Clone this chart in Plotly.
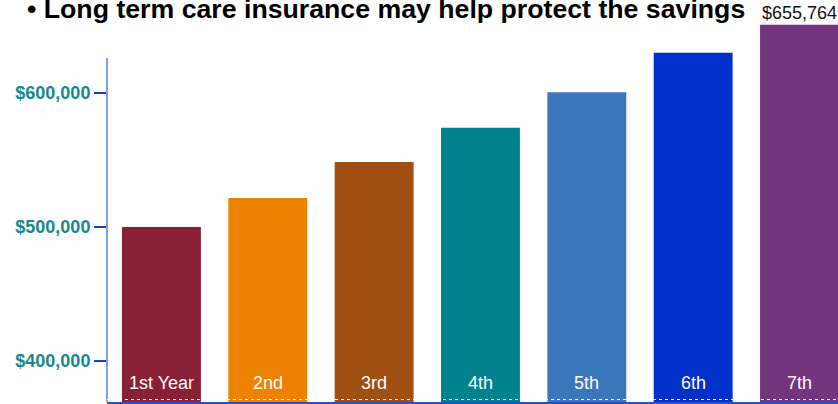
import plotly.graph_objects as go

categories = ["1st Year", "2nd", "3rd", "4th", "5th", "6th", "7th"]
values = [500000, 521600, 548500, 574000, 600500, 630000, 651000]
bar_colors = ["#8a2035", "#ed8100", "#a05013", "#00828f", "#3a77ba", "#0030c8", "#74357f"]
top_label = "$655,764"
tick_vals = [400000, 500000, 600000]
tick_text = ["$400,000", "$500,000", "$600,000"]
title_text = "\u2022 Long term care insurance may help protect the savings"

W, H = 838, 404
L, B, T = 107, 2, 0
plot_h = H - T - B

fig = go.Figure()
fig.add_trace(go.Bar(
    x=categories, y=values,
    marker=dict(color=bar_colors, line=dict(width=0)),
    hoverinfo="skip",
))

# category labels inside bars near the base
for c in categories:
    fig.add_annotation(
        x=c, y=(H - B - 383) / plot_h, xref="x", yref="paper",
        text=c, showarrow=False, yanchor="middle",
        font=dict(family="Arial, Liberation Sans", size=18, color="white"),
    )

# value label above the last bar
fig.add_annotation(
    x=categories[-1], y=values[-1], xref="x", yref="y",
    text=top_label, showarrow=False, yanchor="bottom",
    font=dict(family="Arial, Liberation Sans", size=18, color="#111111"),
)

# title (partially cut at top like the reference)
fig.add_annotation(
    x=(25 - L) / (W - L), y=(H - B - 26) / plot_h, xref="paper", yref="paper",
    text="<b>" + title_text + "</b>", showarrow=False,
    xanchor="left", yanchor="bottom",
    font=dict(family="Arial, Liberation Sans", size=26.7, color="#000000"),
)

# y axis line (partial height)
fig.add_shape(type="line", xref="paper", yref="paper",
              x0=0, x1=0, y0=0, y1=(H - B - 58) / plot_h,
              line=dict(color="#5a82d8", width=1.5))
# white dotted line along the base of bars
fig.add_shape(type="line", xref="paper", yref="paper",
              x0=0, x1=1, y0=2.5 / plot_h, y1=2.5 / plot_h,
              line=dict(color="white", width=1, dash="dot"), layer="above")

fig.update_layout(
    width=W, height=H,
    margin=dict(l=L, r=0, t=T, b=B, pad=0),
    paper_bgcolor="white", plot_bgcolor="white",
    bargap=0.258, showlegend=False,
    xaxis=dict(range=[-0.512, 6.362], showticklabels=False, ticks="",
               showgrid=False, zeroline=False,
               showline=True, linecolor="#2350d0", linewidth=2),
    yaxis=dict(range=[369400, 669400], tickvals=tick_vals, ticktext=tick_text,
               ticks="outside", ticklen=12, tickwidth=1.5, tickcolor="#1c3fc0",
               tickfont=dict(family="Arial, Liberation Sans", size=18, color="#17898d", weight="bold"),
               showgrid=False, zeroline=False, showline=False),
)

fig.write_html("out.html", config={"displayModeBar": False},
               post_script="document.body.style.margin='0px';document.body.style.overflow='hidden';")
